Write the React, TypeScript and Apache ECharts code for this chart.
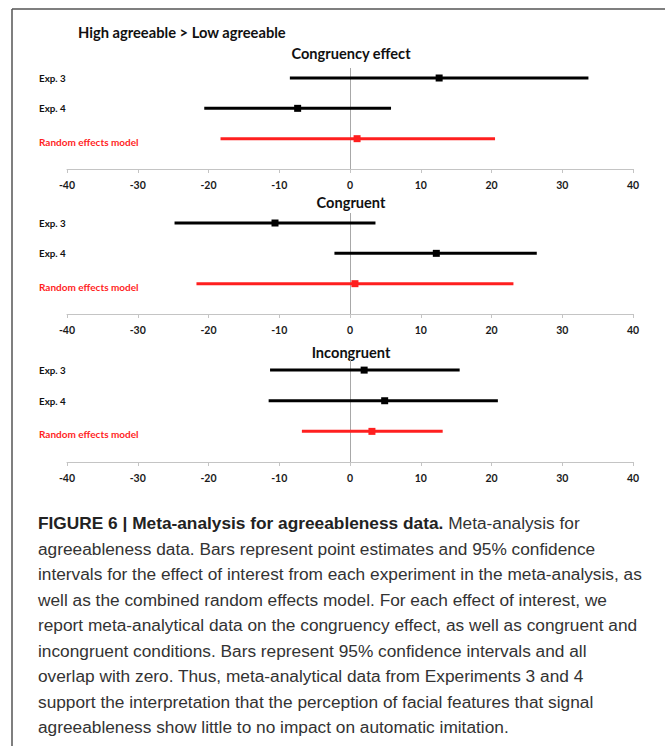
import React, { useEffect, useRef } from "react";
import * as echarts from "echarts";

const rowLabels = ["Exp. 3", "Exp. 4", "Random effects model"];
const panelTitles = ["Congruency effect", "Congruent", "Incongruent"];
const mainTitle = "High agreeable > Low agreeable";

const congruencyLo = [-8.5, -20.6, -18.3];
const congruencyEst = [12.6, -7.4, 1.0];
const congruencyHi = [33.7, 5.8, 20.5];

const congruentLo = [-24.8, -2.2, -21.7];
const congruentEst = [-10.6, 12.2, 0.7];
const congruentHi = [3.6, 26.4, 23.1];

const incongruentLo = [-11.3, -11.5, -6.8];
const incongruentEst = [2.0, 4.9, 3.1];
const incongruentHi = [15.5, 20.9, 13.1];

const captionLines = [
  "{b|FIGURE 6 | Meta-analysis for agreeableness data.} Meta-analysis for",
  "agreeableness data. Bars represent point estimates and 95% confidence",
  "intervals for the effect of interest from each experiment in the meta-analysis, as",
  "well as the combined random effects model. For each effect of interest, we",
  "report meta-analytical data on the congruency effect, as well as congruent and",
  "incongruent conditions. Bars represent 95% confidence intervals and all",
  "overlap with zero. Thus, meta-analytical data from Experiments 3 and 4",
  "support the interpretation that the perception of facial features that signal",
  "agreeableness show little to no impact on automatic imitation.",
];

const BLACK = "#000000";
const RED = "#ff1f1f";
const FONT = "Lato";
const CAP_FONT = "Liberation Sans";
const CAP_SIZE = 17.3;

export default function App() {
  const ref = useRef<HTMLDivElement>(null);
  useEffect(() => {
    if (!ref.current) return;
    const chart = echarts.init(ref.current, undefined, { renderer: "svg" });

    const panels = [
      { lo: congruencyLo, est: congruencyEst, hi: congruencyHi, top: 68, height: 101, titleY: 53.5 },
      { lo: congruentLo, est: congruentEst, hi: congruentHi, top: 213, height: 101, titleY: 202.5 },
      { lo: incongruentLo, est: incongruentEst, hi: incongruentHi, top: 360, height: 102, titleY: 352.5 },
    ];

    const grids = panels.map((p) => ({
      left: 67,
      width: 566,
      top: p.top,
      height: p.height,
      containLabel: false,
    }));

    const xAxes = panels.map((p, i) => ({
      type: "value",
      gridIndex: i,
      min: -40,
      max: 40,
      interval: 10,
      axisLine: { show: true, lineStyle: { color: "#c4c4c4", width: 1 } },
      axisTick: { show: true, length: 4, lineStyle: { color: "#c4c4c4" } },
      splitLine: { show: false },
      axisLabel: {
        margin: 10,
        fontFamily: FONT,
        fontWeight: "bold",
        fontSize: 10.5,
        color: "#1a1a1a",
      },
    }));

    const yAxes = panels.map((p, i) => ({
      type: "value",
      gridIndex: i,
      inverse: true,
      min: 0.67,
      max: 4,
      axisLine: { show: false },
      axisTick: { show: false },
      splitLine: { show: false },
      axisLabel: {
        show: true,
        customValues: [1, 2, 3],
        align: "left",
        margin: 28,
        fontFamily: FONT,
        fontWeight: "bold",
        fontSize: 9.5,
        color: "#111",
        formatter: (v: number) => {
          const idx = Math.round(v) - 1;
          const t = rowLabels[idx] ?? "";
          return idx === 2 ? "{r|" + t + "}" : "{k|" + t + "}";
        },
        rich: {
          k: { fontFamily: FONT, fontWeight: "bold", fontSize: 9.8, color: "#111" },
          r: { fontFamily: FONT, fontWeight: "bold", fontSize: 10, color: RED, padding: [6, 0, 0, 0] },
        },
      },
    }));

    const series = panels.map((p, i) => ({
      type: "custom",
      xAxisIndex: i,
      yAxisIndex: i,
      z: 3,
      data: p.lo.map((lo, j) => [lo, p.hi[j], p.est[j], j + 1, j === 2 ? 1 : 0]),
      encode: { x: [0, 1, 2], y: 3 },
      renderItem: (params: any, api: any) => {
        const row = api.value(3);
        const a = api.coord([api.value(0), row]);
        const b = api.coord([api.value(1), row]);
        const e = api.coord([api.value(2), row]);
        const color = api.value(4) === 1 ? RED : BLACK;
        return {
          type: "group",
          children: [
            {
              type: "line",
              shape: { x1: a[0], y1: a[1], x2: b[0], y2: b[1] },
              style: { stroke: color, lineWidth: 3 },
            },
            {
              type: "rect",
              shape: { x: e[0] - 3.5, y: e[1] - 3.5, width: 7, height: 7 },
              style: { fill: color },
            },
          ],
        };
      },
      markLine: {
        silent: true,
        symbol: "none",
        z: 1,
        label: { show: false },
        lineStyle: { color: "#a8a8a8", width: 1, type: "solid" },
        data: [{ xAxis: 0 }],
      },
    }));

    const graphics: any[] = [
      {
        type: "line",
        shape: { x1: 12, y1: 9, x2: 12, y2: 746 },
        style: { stroke: "#555", lineWidth: 1.5 },
      },
      {
        type: "line",
        shape: { x1: 12, y1: 9, x2: 665, y2: 9 },
        style: { stroke: "#555", lineWidth: 1.5 },
      },
      {
        type: "text",
        x: 78,
        y: 31.5,
        style: {
          text: mainTitle,
          fontFamily: FONT,
          fontWeight: "bold",
          fontSize: 14.7,
          fill: "#111",
          verticalAlign: "middle",
          align: "left",
        },
      },
      ...panels.map((p, i) => ({
        type: "text",
        x: 351,
        y: p.titleY,
        style: {
          text: panelTitles[i],
          fontFamily: FONT,
          fontWeight: "bold",
          fontSize: 14.6,
          fill: "#111",
          verticalAlign: "middle",
          align: "center",
        },
      })),
      ...captionLines.map((line, i) => ({
        type: "text",
        x: 38,
        y: 523 + i * 25.5,
        style: {
          text: line,
          fontFamily: CAP_FONT,
          fontSize: CAP_SIZE,
          fill: "#333",
          verticalAlign: "middle",
          align: "left",
          rich: {
            b: { fontFamily: CAP_FONT, fontWeight: "bold", fontSize: CAP_SIZE, fill: "#222" },
          },
        },
      })),
    ];

    chart.setOption({
      animation: false,
      backgroundColor: "#ffffff",
      grid: grids,
      xAxis: xAxes,
      yAxis: yAxes,
      series,
      graphic: graphics,
    });

    return () => chart.dispose();
  }, []);

  return (
    <div
      ref={ref}
      style={{ position: "absolute", left: 0, top: 0, width: 665, height: 746 }}
    />
  );
}
